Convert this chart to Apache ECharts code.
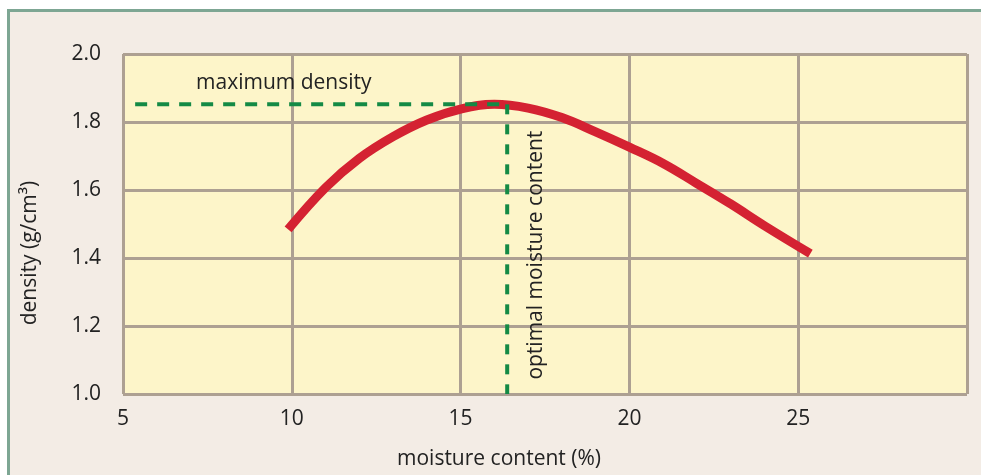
<!DOCTYPE html>
<html>
<head>
<meta charset="utf-8">
<script src="https://cdn.jsdelivr.net/npm/echarts@6/dist/echarts.min.js"></script>
<style>
  html, body { margin: 0; padding: 0; background: #ffffff; }
  #frame {
    position: absolute; left: 7px; top: 9px; width: 990px; height: 480px;
    background: #f3ece5; border-top: 3px solid #7da693; border-left: 3px solid #7da693;
  }
  #densityChart { position: absolute; left: 0; top: 0; width: 981px; height: 475px; }
</style>
</head>
<body>
<div id="frame"></div>
<div id="densityChart"></div>
<script>
  // moisture content (%) and density (g/cm3)
  const moisture = [9.89, 11, 12, 13, 14, 15, 16, 17, 18, 19, 20, 21, 22, 23, 24, 25.36]
  const density = [1.484, 1.607, 1.693, 1.757, 1.806, 1.838, 1.852, 1.841, 1.813, 1.771, 1.726, 1.678, 1.619, 1.559, 1.495, 1.413]
  const maxDensity = 1.852
  const optimalMoisture = 16.38
  const guideStart = 5.36
  const xTicks = [5, 10, 15, 20, 25]
  const yTicks = [1.0, 1.2, 1.4, 1.6, 1.8, 2.0]

  const font = 'Open Sans'
  const gridColor = '#ada092'
  let myChart = echarts.init(document.getElementById('densityChart'))

  const option = {
    animation: false,
    textStyle: { fontFamily: font, color: '#222' },
    grid: {
      left: 123, right: 14, top: 54, bottom: 81,
      show: true, backgroundColor: '#fdf5c9', borderWidth: 0
    },
    xAxis: {
      type: 'value', min: 5, max: 30, interval: 5,
      axisLine: { show: false },
      axisTick: { show: false },
      axisLabel: {
        fontSize: 21, color: '#222', margin: 15, fontFamily: font,
        formatter: function (v) { return xTicks.indexOf(v) >= 0 ? String(v) : '' }
      },
      splitLine: { lineStyle: { color: gridColor, width: 3 } }
    },
    yAxis: {
      type: 'value', min: 1.0, max: 2.0, interval: 0.2,
      axisLine: { show: false },
      axisTick: { show: false },
      axisLabel: {
        fontSize: 21, color: '#222', margin: 22, fontFamily: font,
        formatter: function (v) {
          return yTicks.some(function (t) { return Math.abs(t - v) < 1e-6 }) ? v.toFixed(1) : ''
        }
      },
      splitLine: { lineStyle: { color: gridColor, width: 3 } }
    },
    series: [
      {
        type: 'line', smooth: 0.4, showSymbol: false, z: 2,
        lineStyle: { color: '#d42232', width: 9, cap: 'butt' },
        data: moisture.map(function (m, i) { return [m, density[i]] })
      },
      {
        type: 'line', showSymbol: false, z: 3,
        lineStyle: { color: '#148a45', width: 4, type: [12, 10] },
        data: [[guideStart, maxDensity], [optimalMoisture, maxDensity]]
      },
      {
        type: 'line', showSymbol: false, z: 3,
        lineStyle: { color: '#148a45', width: 4, type: [10, 10] },
        data: [[optimalMoisture, maxDensity], [optimalMoisture, 1.0]]
      }
    ]
  }
  myChart.setOption(option)

  // annotation text placed relative to the guide lines
  const peak = myChart.convertToPixel('grid', [optimalMoisture, maxDensity])
  const base = myChart.convertToPixel('grid', [optimalMoisture, 1.0])
  const left = myChart.convertToPixel('grid', [10, maxDensity])
  const labelFont = '21px "Open Sans"'
  myChart.setOption({
    graphic: [
      {
        type: 'text', x: left[0] - 8, y: peak[1] - 21,
        style: { text: 'maximum density', font: labelFont, fill: '#222', align: 'center', verticalAlign: 'middle' }
      },
      {
        type: 'text', x: peak[0] + 29, y: (peak[1] + base[1]) / 2 + 6, rotation: Math.PI / 2,
        style: { text: 'optimal moisture content', font: labelFont, fill: '#222', align: 'center', verticalAlign: 'middle' }
      },
      {
        type: 'text', x: 30, y: 253, rotation: Math.PI / 2,
        style: { text: 'density (g/cm³)', font: labelFont, fill: '#222', align: 'center', verticalAlign: 'middle' }
      },
      {
        type: 'text', x: 499, y: 459,
        style: { text: 'moisture content (%)', font: labelFont, fill: '#222', align: 'center', verticalAlign: 'middle' }
      }
    ]
  })
</script>
</body>
</html>
